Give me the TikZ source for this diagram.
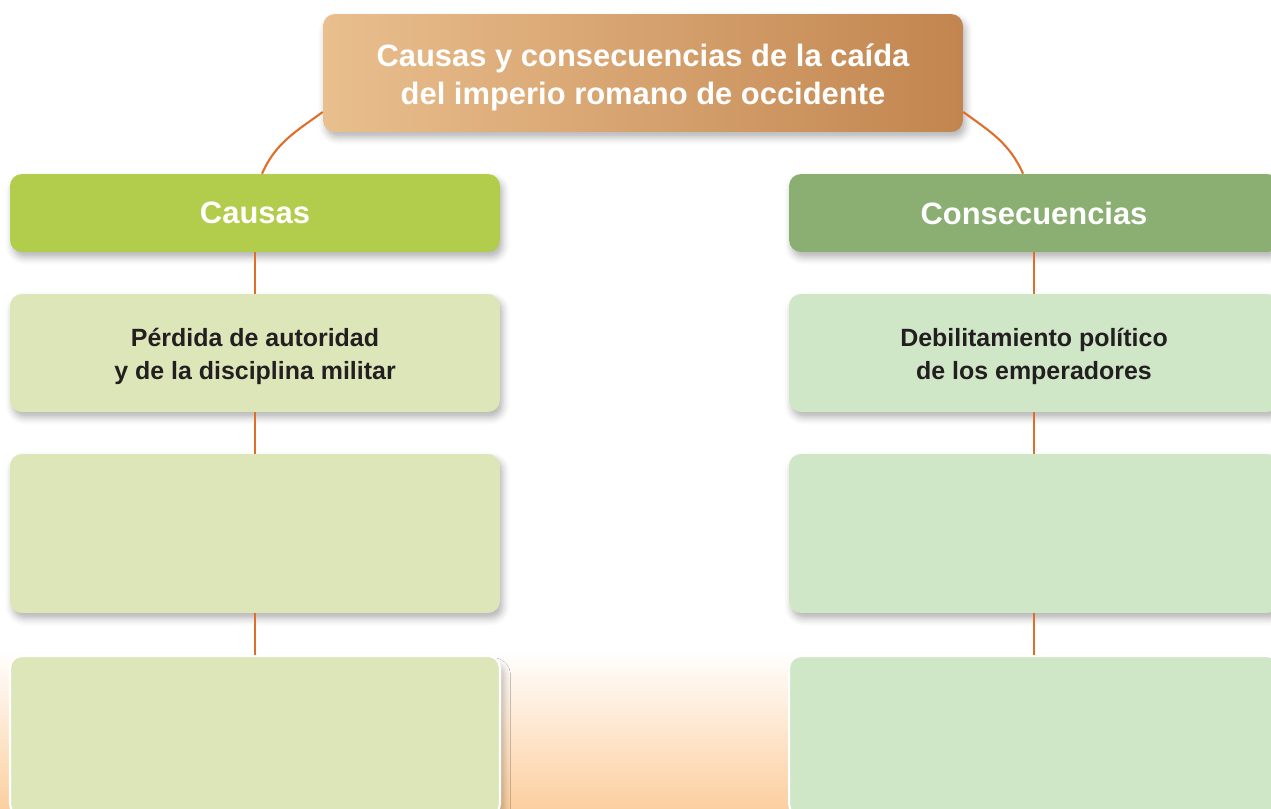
\documentclass[tikz,border=0pt]{standalone}
\usepackage{fontspec}
\setmainfont{Liberation Sans}
\usepackage{tikz}
\usetikzlibrary{positioning,shadows,shadows.blur}
\definecolor{ttlL}{HTML}{E9BF8E}
\definecolor{ttlR}{HTML}{C2854F}
\definecolor{causa}{HTML}{B2CC4C}
\definecolor{conse}{HTML}{8BAE72}
\definecolor{causabg}{HTML}{DDE6B9}
\definecolor{consebg}{HTML}{CFE6C7}
\definecolor{linkc}{HTML}{DF6E2B}
\definecolor{peach}{HTML}{FCCFA0}
\definecolor{ink}{HTML}{231F20}
\tikzset{
  shad/.style ={blur shadow={shadow xshift=1.5pt, shadow yshift=-3pt, shadow blur radius=4pt, shadow opacity=30}},
  ttl/.style  ={rounded corners=6.8pt, shad, left color=ttlL, right color=ttlR, minimum width=12.8cm, minimum height=2.36cm, text=white, align=center, font=\fontsize{17.6}{21.6}\selectfont\bfseries},
  head/.style ={rounded corners=6.8pt, shad, minimum width=9.8cm, minimum height=1.56cm, text=white, font=\fontsize{17.6}{21}\selectfont\bfseries},
  box/.style  ={rounded corners=6.8pt, fill=causabg, minimum width=9.8cm, text=ink, align=center, font=\fontsize{14.2}{18.6}\selectfont\bfseries},
  cbox/.style ={box, shad},
  kbox/.style ={box, shad, fill=consebg},
  lastb/.style={box, draw=white, line width=1.2pt, blur shadow={shadow xshift=3pt, shadow yshift=-4pt, shadow blur radius=3pt, shadow opacity=20}},
  link/.style ={draw=linkc, line width=1.2pt},
}
\begin{document}
\begin{tikzpicture}[x=0.02cm,y=-0.02cm]
  \useasboundingbox (0,0) rectangle (1271,808);
  \clip (0,0) rectangle (1271,808);
  \shade[top color=white, bottom color=peach] (0,650) rectangle (1271,808);

  \node[ttl] (title) at (643,73) {\rule{0pt}{18pt}Causas y consecuencias de la caída\\del imperio romano de occidente};

  \node[head,fill=causa] (causas) at (255,213) {Causas};
  \node[cbox,minimum height=2.36cm] (c1) at (255,353) {\rule{0pt}{14.5pt}Pérdida de autoridad\\y de la disciplina militar};
  \node[cbox,minimum height=3.18cm] (c2) at (255,533.5) {};
  \node[lastb,minimum height=3.2cm] (c3) at (255,736) {};

  \node[head,fill=conse] (conse) at (1034,213) {Consecuencias};
  \node[kbox,minimum height=2.36cm] (k1) at (1034,353) {\rule{0pt}{14.5pt}Debilitamiento político\\de los emperadores};
  \node[kbox,minimum height=3.18cm] (k2) at (1034,533.5) {};
  \node[lastb,fill=consebg,minimum height=3.2cm] (k3) at (1034,736) {};

  \draw[link] ([xshift=0.14cm]causas.north) to[out=66,in=216] ([yshift=-0.78cm]title.west);
  \draw[link] ([xshift=-0.22cm]conse.north) to[out=114,in=-36] ([yshift=-0.78cm]title.east);
  \draw[link] (causas) -- (c1);
  \draw[link] (c1) -- (c2);
  \draw[link] (c2) -- (c3);
  \draw[link] (conse) -- (k1);
  \draw[link] (k1) -- (k2);
  \draw[link] (k2) -- (k3);
\end{tikzpicture}
\end{document}
